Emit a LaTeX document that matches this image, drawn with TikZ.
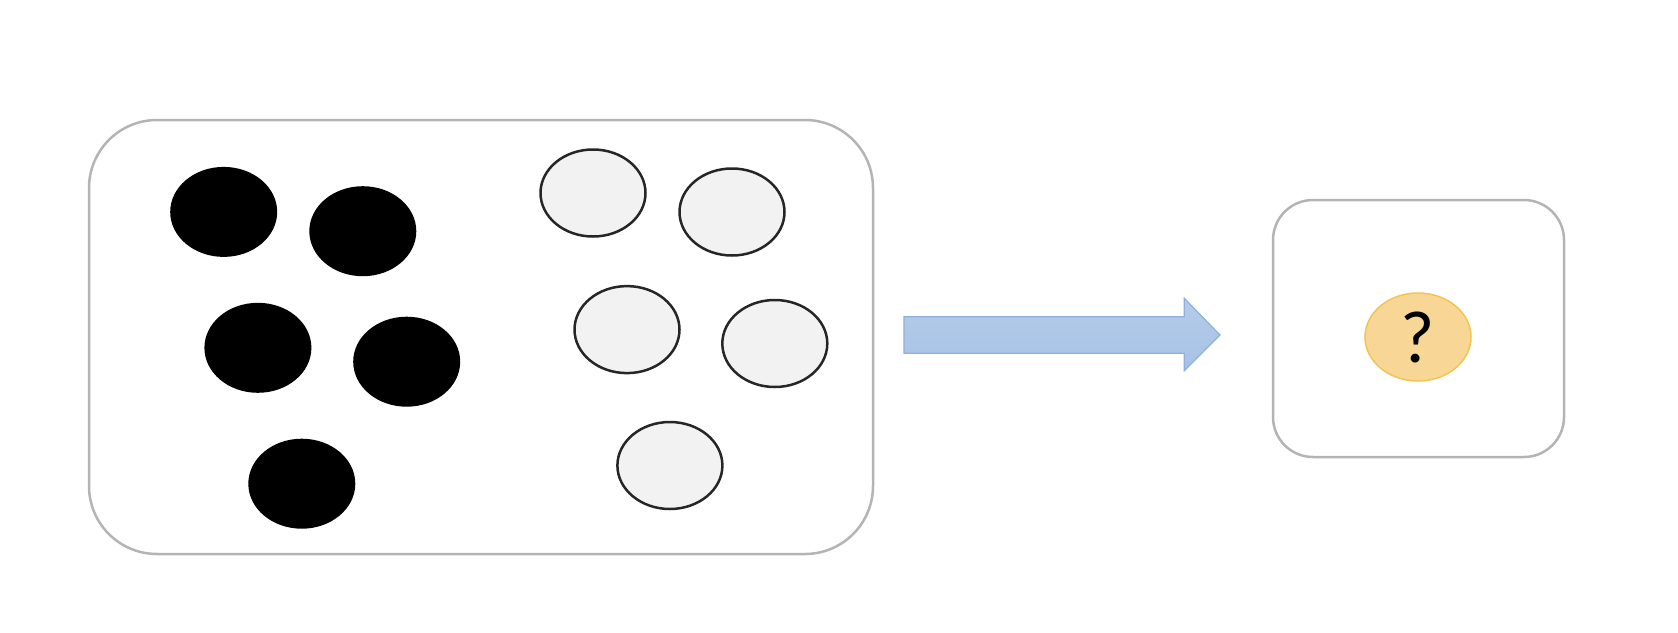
\documentclass[tikz,border=0pt]{standalone}
\usepackage{fontspec}
\newfontfamily\calib{Carlito}
\definecolor{boxgray}{HTML}{B4B4B4}
\definecolor{dotfill}{HTML}{F2F2F2}
\definecolor{arrowfill}{HTML}{A7C2E5}
\definecolor{arrowtop}{HTML}{B4CCEA}
\definecolor{arrowline}{HTML}{8FB0DC}
\definecolor{qfill}{HTML}{F8D696}
\definecolor{qline}{HTML}{F2C453}
\usetikzlibrary{shapes.geometric}
\begin{document}
\begin{tikzpicture}[x=1pt,y=-1pt,
  frame/.style={draw=boxgray,line width=2.5pt,rounded corners=#1},
  blackdot/.style={ellipse,fill=black,minimum width=107pt,minimum height=90pt,inner sep=0pt},
  whitedot/.style={ellipse,draw=black!85,fill=dotfill,line width=2.5pt,minimum width=105pt,minimum height=87pt,inner sep=0pt},
  qdot/.style={ellipse,draw=qline,fill=qfill,line width=1.5pt,minimum width=106pt,minimum height=88pt,inner sep=0pt,font=\calib\fontsize{74}{74}\selectfont}
]
\useasboundingbox (0,0) rectangle (1678,632);
\draw[frame=68pt] (89,120) rectangle (873,554);
\node[blackdot] (b1) at (223.7,211.9) {};
\node[blackdot] (b2) at (362.8,231.2) {};
\node[blackdot] (b3) at (257.9,347.8) {};
\node[blackdot] (b4) at (406.7,361.7) {};
\node[blackdot] (b5) at (301.8,483.7) {};
\node[whitedot] (w1) at (593,193) {};
\node[whitedot] (w2) at (732,212) {};
\node[whitedot] (w3) at (627,329.6) {};
\node[whitedot] (w4) at (774.8,343.5) {};
\node[whitedot] (w5) at (669.9,465.5) {};
\draw[top color=arrowtop,bottom color=arrowfill,draw=arrowline,line width=1.2pt,line join=miter]
  (904,316.7) -- (1184.3,316.7) -- (1184.3,298.3) -- (1220,335) -- (1184.3,370.7) -- (1184.3,353.3) -- (904,353.3) -- cycle;
\draw[frame=40pt] (1273,200) rectangle (1564,457);
\node[qdot] (q) at (1418,337) {?};
\end{tikzpicture}
\end{document}
